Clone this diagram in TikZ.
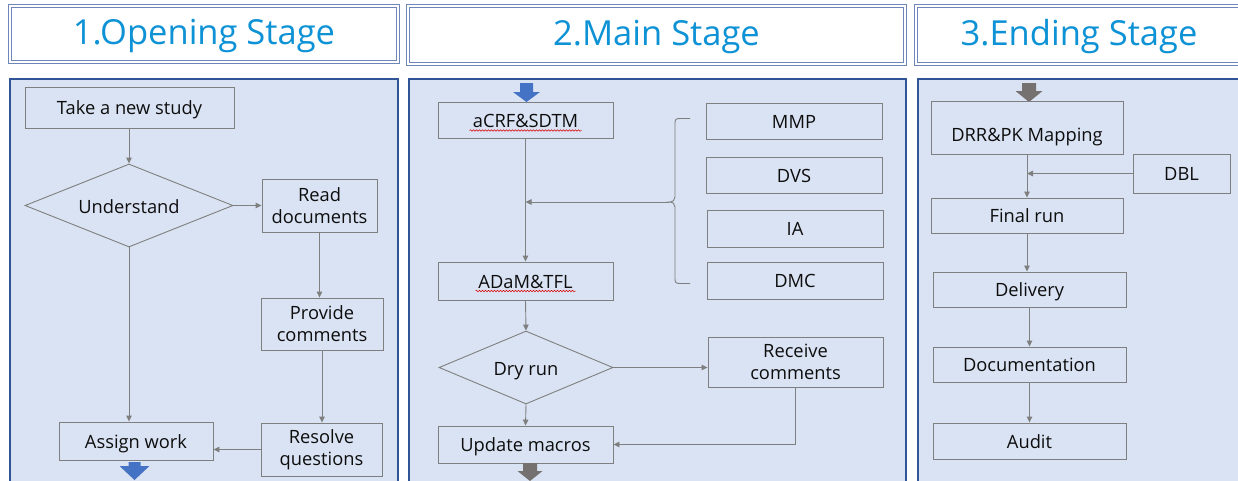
\documentclass[tikz,border=0pt]{standalone}
\usepackage{fontspec}
\setmainfont{Open Sans}
\usetikzlibrary{shapes.geometric,arrows.meta,decorations.pathmorphing,calc}
\definecolor{panelfill}{HTML}{DAE3F3}
\definecolor{panelline}{HTML}{2F5597}
\definecolor{titleline}{HTML}{6F86B8}
\definecolor{titletext}{HTML}{0E92D6}
\definecolor{boxline}{HTML}{7F7F7F}
\definecolor{conn}{HTML}{7F7F7F}
\definecolor{bluearrow}{HTML}{4472C4}
\definecolor{greyarrow}{HTML}{767171}
\definecolor{txt}{HTML}{0D0D0D}
\newcommand\downblock[7]{% x, ytop, yhead, ytip, stemhalf, headhalf, colour
  \fill[#7] ({#1-#5},#2) -- ({#1+#5},#2) -- ({#1+#5},#3) -- ({#1+#6},#3) -- (#1,#4)
    -- ({#1-#6},#3) -- ({#1-#5},#3) -- cycle;}
\begin{document}
\begin{tikzpicture}[x=1pt,y=-1pt,
  titlebox/.style={draw=titleline, double=white, double distance=1.6pt, line width=1.3pt,
    fill=white, inner sep=0, font=\fontsize{34.5}{38}\selectfont, text=titletext,
    text height=29pt, text depth=8.3pt},
  panel/.style={draw=panelline, line width=1.8pt, fill=panelfill},
  proc/.style={draw=boxline, line width=0.9pt, inner sep=0, align=center,
    font=\fontsize{18.3}{22}\selectfont, text=txt},
  single/.style={text height=19pt, text depth=4.5pt},
  decision/.style={diamond, aspect=2.5, draw=boxline, line width=0.9pt, inner sep=0, align=center,
    font=\fontsize{18.3}{22}\selectfont, text=txt, text height=19.5pt, text depth=4.5pt},
  flow/.style={draw=conn, line width=0.9pt, -{Triangle[length=6pt,width=5.5pt]}},
  plainline/.style={draw=conn, line width=0.9pt},
  wavy/.style={draw=red!85!black, line width=0.5pt, decorate,
    decoration={snake, amplitude=0.8pt, segment length=3pt}},
]
\clip (0,0) rectangle (1238,480);
\fill[white] (0,0) rectangle (1238,480);

% titles
\node[titlebox, minimum width=388pt, minimum height=56pt] (t1) at (204,34) {1.Opening Stage};
\node[titlebox, minimum width=497pt, minimum height=58pt] (t2) at (656.5,35) {2.Main Stage};
\node[titlebox, minimum width=326pt, minimum height=58pt] (t3) at (1079,35) {3.Ending Stage};

% panels
\draw[panel] (10,79) rectangle (398,495);
\draw[panel] (409,79) rectangle (906,495);
\draw[panel] (918,79) rectangle (1255,495);

% ---------- Stage 1 ----------
\node[proc, single, minimum width=209pt, minimum height=41pt] (take) at (129.5,107.5) {Take a new study};
\node[decision, minimum width=208pt, minimum height=83pt] (und) at (129,205.5) {Understand};
\node[proc, minimum width=115pt, minimum height=53pt] (read) at (319.5,205.5) {Read\\documents};
\node[proc, minimum width=122pt, minimum height=52pt] (prov) at (322,324) {Provide\\comments};
\node[proc, minimum width=121pt, minimum height=53pt] (res) at (321.5,449.5) {Resolve\\questions};
\node[proc, single, minimum width=154pt, minimum height=38pt] (assign) at (136,441) {Assign work};

\draw[flow] (take.south -| und.north) -- (und.north);
\draw[flow] (und.east) -- (read.west);
\draw[flow] (read.south) -- (read.south |- prov.north);
\draw[flow] (prov.south) -- (prov.south |- res.north);
\draw[flow] (res.west) -- (res.west -| assign.east);
\draw[flow] (und.south) -- (und.south |- assign.north);
\downblock{134.5}{462}{466}{480}{6}{15}{bluearrow}

% ---------- Stage 2 ----------
\downblock{526.5}{83}{92}{102}{6.5}{13.5}{bluearrow}
\node[proc, single, minimum width=175pt, minimum height=36pt] (acrf) at (525.5,120) {aCRF\&SDTM};
\node[proc, single, minimum width=175pt, minimum height=38pt] (adam) at (525.5,281) {ADaM\&TFL};
\node[proc, single, minimum width=176pt, minimum height=36pt] (mmp) at (794,121) {MMP};
\node[proc, single, minimum width=176pt, minimum height=36pt] (dvs) at (794,175) {DVS};
\node[proc, single, minimum width=176pt, minimum height=37pt] (ia) at (795,228.5) {IA};
\node[proc, single, minimum width=176pt, minimum height=37pt] (dmc) at (795,280.5) {DMC};
\node[decision, minimum width=174pt, minimum height=73pt] (dry) at (526,367.5) {Dry run};
\node[proc, minimum width=175pt, minimum height=50pt] (recv) at (795.5,362) {Receive\\comments};
\node[proc, single, minimum width=175pt, minimum height=37pt] (upd) at (525.5,444.5) {Update macros};

\draw[wavy] ($(acrf.center)+(-56,10.5)$) -- ($(acrf.center)+(56,10.5)$);
\draw[wavy] ($(adam.center)+(-50,10)$) -- ($(adam.center)+(50,10)$);

\draw[flow] (acrf.south) -- (adam.north);
% brace
\draw[plainline] (690,118.5) -- (680,118.5) .. controls (676,118.5) and (675,119.5) .. (675,123)
  -- (675,197) .. controls (675,200) and (673,202) .. (669,202)
  .. controls (673,202) and (675,204) .. (675,207)
  -- (675,279) .. controls (675,282.5) and (676,283.5) .. (680,283.5) -- (690,283.5);
\coordinate (bracetip) at (669,202);
\draw[flow] (bracetip) -- (bracetip -| acrf.south);

\draw[flow] (adam.south) -- (dry.north);
\draw[flow] (dry.east) -- (dry.east -| recv.west);
\draw[flow] (dry.south) -- (upd.north);
\draw[flow] (recv.south) |- (upd.east);
\downblock{530}{463}{471}{481}{7}{12.5}{greyarrow}

% ---------- Stage 3 ----------
\downblock{1029}{83}{91}{102}{7}{13.5}{greyarrow}
\node[proc, minimum width=192pt, minimum height=53pt, text height=33pt, text depth=4.5pt] (drr) at (1027,127.5) {DRR\&PK Mapping};
\node[proc, single, minimum width=97pt, minimum height=39pt] (dbl) at (1181.5,173.5) {DBL};
\node[proc, single, minimum width=192pt, minimum height=35pt] (final) at (1027,215.5) {Final run};
\node[proc, single, minimum width=193pt, minimum height=35pt] (deliv) at (1029.5,289.5) {Delivery};
\node[proc, single, minimum width=193pt, minimum height=35pt] (docu) at (1029.5,364.5) {Documentation};
\node[proc, single, minimum width=193pt, minimum height=36pt] (audit) at (1029.5,441) {Audit};

\draw[flow] (drr.south) -- (final.north);
\draw[flow] (dbl.west) -- (dbl.west -| drr.south);
\draw[flow] (final.south) -- (final.south |- deliv.north);
\draw[flow] (deliv.south) -- (docu.north);
\draw[flow] (docu.south) -- (audit.north);
\end{tikzpicture}
\end{document}
